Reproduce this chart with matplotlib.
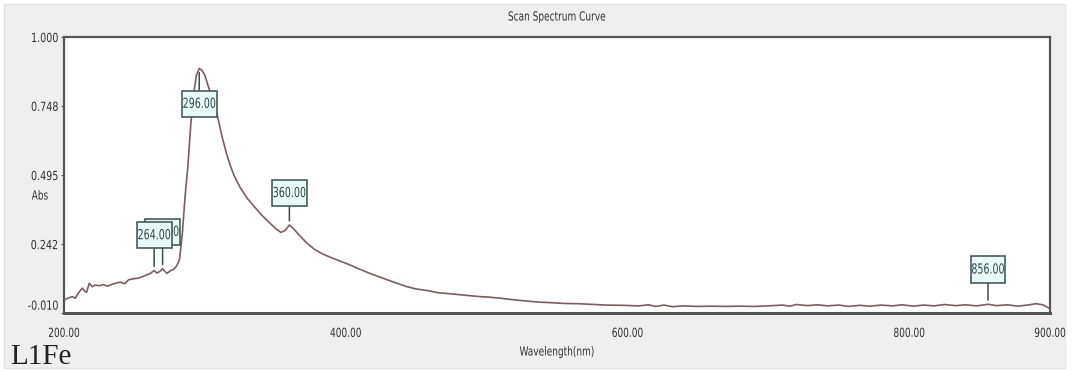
import numpy as np
import matplotlib
matplotlib.use("Agg")
import matplotlib.pyplot as plt
from matplotlib.patches import Rectangle
from matplotlib.patheffects import AbstractPathEffect
from matplotlib.transforms import Affine2D, ScaledTranslation

# Absorbance scan, L1Fe
wavelength = [200, 203, 206, 208, 210, 213, 215, 216, 218, 220, 222, 225, 228, 231,
              234, 237, 240, 243, 246, 249, 252, 255, 258, 261, 264, 266, 268, 270,
              273, 276, 278, 280, 282, 284, 286, 288, 290, 292, 294, 296, 298, 300,
              303, 306, 309, 312, 315, 318, 321, 325, 330, 335, 340, 345, 350, 354,
              357, 360, 363, 367, 372, 378, 384, 390, 396, 402, 410, 417, 425, 433,
              443, 450, 458, 466, 475, 485, 495, 502, 510, 520, 530, 537, 545, 555,
              565, 573, 585, 597, 608, 615, 620, 626, 632, 640, 650, 660, 670, 680,
              690, 700, 710, 715, 720, 728, 735, 742, 750, 757, 765, 772, 780, 788,
              795, 803, 810, 818, 825, 833, 840, 848, 856, 862, 870, 877, 884, 890,
              895, 900]
absorbance = [0.037, 0.045, 0.050, 0.044, 0.062, 0.081, 0.068, 0.066, 0.099, 0.086,
              0.092, 0.090, 0.094, 0.088, 0.095, 0.099, 0.103, 0.097, 0.112, 0.115,
              0.117, 0.121, 0.128, 0.134, 0.145, 0.136, 0.142, 0.152, 0.135, 0.146,
              0.150, 0.163, 0.185, 0.280, 0.420, 0.530, 0.680, 0.790, 0.860, 0.885,
              0.878, 0.860, 0.810, 0.760, 0.710, 0.640, 0.580, 0.530, 0.490, 0.450,
              0.410, 0.380, 0.350, 0.325, 0.300, 0.285, 0.292, 0.312, 0.298, 0.275,
              0.248, 0.222, 0.205, 0.192, 0.180, 0.168, 0.150, 0.135, 0.120, 0.105,
              0.087, 0.078, 0.072, 0.064, 0.060, 0.055, 0.050, 0.048, 0.044, 0.038,
              0.033, 0.030, 0.028, 0.025, 0.024, 0.022, 0.019, 0.018, 0.016, 0.020,
              0.014, 0.019, 0.013, 0.016, 0.014, 0.015, 0.014, 0.015, 0.014, 0.016,
              0.019, 0.015, 0.021, 0.017, 0.020, 0.016, 0.019, 0.014, 0.018, 0.015,
              0.019, 0.016, 0.020, 0.015, 0.019, 0.016, 0.021, 0.017, 0.020, 0.016,
              0.022, 0.017, 0.020, 0.015, 0.019, 0.024, 0.020, 0.006]

peak_marks = [270, 264, 296, 360, 856]
peak_labels = ["270.00", "264.00", "296.00", "360.00", "856.00"]

# label box placement relative to its peak (points; negative = below the curve)
label_offset_pt = [26.5, 25.5, -25.5, 23.0, 25.0]

x_ticks = [200, 400, 600, 800, 900]
x_ticklabels = ["200.00", "400.00", "600.00", "800.00", "900.00"]
y_ticks = [-0.010, 0.242, 0.495, 0.748, 1.000]
y_ticklabels = ["-0.010", "0.242", "0.495", "0.748", "1.000"]


class Squeeze(AbstractPathEffect):
    """Compress a drawn path horizontally about its left, centre or right edge."""

    def __init__(self, sx, anchor="center"):
        super().__init__()
        self.sx = sx
        self.anchor = anchor

    def draw_path(self, renderer, gc, tpath, affine, rgbFace=None):
        ext = affine.transform_path(tpath).get_extents()
        x0 = {"center": 0.5 * (ext.x0 + ext.x1), "left": ext.x0,
              "right": ext.x1}[self.anchor]
        squeeze = Affine2D().translate(-x0, 0).scale(self.sx, 1).translate(x0, 0)
        renderer.draw_path(gc, tpath, affine + squeeze, rgbFace)


ui = dict(family="DejaVu Sans", stretch="condensed")
text_col = "#333333"
ui_fs = 9

fig = plt.figure(figsize=(10.72, 3.72), dpi=100, facecolor="white")
# window panel behind the plot
fig.patches.append(Rectangle((4 / 1072, 4 / 372), 1061 / 1072, 364 / 372,
                             transform=fig.transFigure, facecolor="#efefef",
                             edgecolor="#e4e4e4", lw=1, zorder=-10))

ax = fig.add_axes([64 / 1072, 1 - 313 / 372, 986 / 1072, 276 / 372])
ax.set_facecolor("white")
ax.plot(wavelength, absorbance, color="#7d5e5e", lw=1.2, zorder=3)
ax.set_xlim(200, 900)
ax.set_ylim(-0.010, 1.000)

ax.set_xticks(x_ticks)
ax.set_xticklabels(x_ticklabels, fontsize=ui_fs, color=text_col, **ui)
ax.set_yticks(y_ticks)
ax.set_yticklabels(y_ticklabels, fontsize=ui_fs, color=text_col, **ui)
ax.tick_params(axis="x", length=0, pad=10)
ax.tick_params(axis="y", length=2, pad=2, color="#555555")
for lbl in ax.get_xticklabels():
    lbl.set_path_effects([Squeeze(0.8, "center")])
for lbl in ax.get_yticklabels():
    lbl.set_path_effects([Squeeze(0.85, "right")])
# lowest value label sits just inside the frame
bottom_lbl = ax.get_yticklabels()[0]
bottom_lbl.set_transform(bottom_lbl.get_transform()
                         + ScaledTranslation(0, 6 / 72, fig.dpi_scale_trans))
for side, sp in ax.spines.items():
    sp.set_color("#555555")
    sp.set_linewidth(1.6 if side != "bottom" else 2.2)

# peak labels
for wl, lab, off in zip(peak_marks, peak_labels, label_offset_pt):
    yv = np.interp(wl, wavelength, absorbance)
    ann = ax.annotate(lab, xy=(wl, yv), xytext=(0, off), textcoords="offset points",
                      ha="center", va="center", fontsize=10, color="#2f4a4a", **ui,
                      bbox=dict(boxstyle="square,pad=0.45", fc="#e9f8f8", ec="#3a4e4e", lw=1.1),
                      arrowprops=dict(arrowstyle="-", color="#3a4e4e", lw=1.1,
                                      shrinkA=0, shrinkB=3),
                      zorder=5)
    ann.set_path_effects([Squeeze(0.76, "center")])
    ann.get_bbox_patch().set_path_effects([Squeeze(0.62, "center")])

for txt, (px, py) in [("Scan Spectrum Curve", (557, 17)),
                      ("Wavelength(nm)", (557, 352)),
                      ("Abs", (40, 196))]:
    t = fig.text(px / 1072, 1 - py / 372, txt, ha="center", va="center",
                 fontsize=ui_fs, color=text_col, **ui)
    t.set_path_effects([Squeeze(0.8, "center")])

fig.text(10 / 1072, 1 - 357 / 372, "L1Fe", ha="left", va="center",
         family=["Liberation Serif", "DejaVu Serif"], fontsize=21, color="#222222")

fig.savefig("out.png", dpi=100, facecolor="white")
